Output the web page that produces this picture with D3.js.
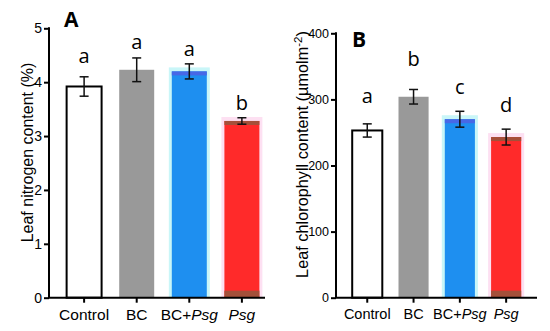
<!DOCTYPE html>
<meta charset="utf-8">
<style>
body { margin: 0; background: #fff; }
svg { display: block; }
text { font-family: "Liberation Sans", Arial, sans-serif; fill: #000; }
.letter { font-family: "Open Sans", sans-serif; font-size: 20px; }
.panel { font-family: "Open Sans", sans-serif; font-weight: bold; font-size: 21px; }
</style>
<svg width="550" height="331"></svg>
<script src="https://cdnjs.cloudflare.com/ajax/libs/d3/7.8.5/d3.min.js"></script>
<script>

// treatments
var groups = ["Control", "BC", "BC+Psg", "Psg"];
var fills = ["#ffffff", "#999999", "#1e8ff0", "#ff2a2a"];

// panel A: leaf nitrogen (%)
var nitrogen = [3.92, 4.23, 4.2, 3.28];
var nitrogenErr = [0.18, 0.22, 0.14, 0.06];
var nitrogenLetters = ["a", "a", "a", "b"];
var nitrogenLetterAt = [4.35, 4.62, 4.49, 3.49];
var nitrogenTicks = [0, 1, 2, 3, 4, 5];

// panel B: leaf chlorophyll (umol m-2)
var chloro = [253, 304, 270, 243];
var chloroErr = [10, 11, 12, 12];
var chloroLetters = ["a", "b", "c", "d"];
var chloroLetterAt = [294, 350, 308, 281];
var chloroTicks = [0, 100, 200, 300, 400];

var svg = d3.select("svg");

function panel(opt) {
  var g = svg.append("g");

  var y = d3.scaleLinear().domain(opt.domain).range([297.7, opt.top]);
  var x = d3.scaleBand().domain(groups)
      .range([opt.left, opt.right])
      .paddingInner(opt.pad).paddingOuter(opt.pad);

  var bw = x.bandwidth();

  // faint colour fringes around the coloured bars (as in the scan)
  var halo = {"BC+Psg": "#c9f6f8", "Psg": "#fde0f2"};
  g.selectAll("rect.halo")
      .data(groups.filter(function(d) { return halo[d]; }))
    .enter().append("rect")
      .attr("x", function(d) { return x(d) - 3; })
      .attr("y", function(d) { return y(opt.values[groups.indexOf(d)]) - 4; })
      .attr("width", bw + 6)
      .attr("height", function(d) { return y(0) - y(opt.values[groups.indexOf(d)]) + 4; })
      .attr("fill", function(d) { return halo[d]; });

  g.selectAll("rect.bar")
      .data(opt.values)
    .enter().append("rect")
      .attr("class", "bar")
      .attr("x", function(d, i) { return x(groups[i]); })
      .attr("y", function(d) { return y(d); })
      .attr("width", bw)
      .attr("height", function(d) { return y(0) - y(d); })
      .attr("fill", function(d, i) { return fills[i]; })
      .attr("stroke", function(d, i) { return i === 0 ? "#000" : "none"; })
      .attr("stroke-width", 2);

  // darker top bands on blue and red bars
  var band = {"BC+Psg": "#4768e6", "Psg": "#a4503a"};
  g.selectAll("rect.band")
      .data(groups.filter(function(d) { return band[d]; }))
    .enter().append("rect")
      .attr("x", function(d) { return x(d); })
      .attr("y", function(d) { return y(opt.values[groups.indexOf(d)]); })
      .attr("width", bw)
      .attr("height", 4)
      .attr("fill", function(d) { return band[d]; });
  g.append("rect")
      .attr("x", x("Psg"))
      .attr("y", y(0) - 7)
      .attr("width", bw)
      .attr("height", 7)
      .attr("fill", "#a4503a");

  // error bars
  var eb = g.selectAll("g.err")
      .data(opt.values)
    .enter().append("g")
      .attr("stroke", "#111")
      .attr("stroke-width", 1.5)
      .attr("transform", function(d, i) { return "translate(" + (x(groups[i]) + bw / 2) + ",0)"; });
  eb.append("line")
      .attr("y1", function(d, i) { return y(d - opt.err[i]); })
      .attr("y2", function(d, i) { return y(d + opt.err[i]); });
  eb.append("line")
      .attr("x1", -4.5).attr("x2", 4.5)
      .attr("y1", function(d, i) { return y(d - opt.err[i]); })
      .attr("y2", function(d, i) { return y(d - opt.err[i]); });
  eb.append("line")
      .attr("x1", -4.5).attr("x2", 4.5)
      .attr("y1", function(d, i) { return y(d + opt.err[i]); })
      .attr("y2", function(d, i) { return y(d + opt.err[i]); });

  // significance letters
  g.selectAll("text.letter")
      .data(opt.letters)
    .enter().append("text")
      .attr("class", "letter")
      .attr("text-anchor", "middle")
      .attr("x", function(d, i) { return x(groups[i]) + bw / 2; })
      .attr("y", function(d, i) { return y(opt.letterAt[i]); })
      .text(function(d) { return d; });

  // y axis
  var ya = g.append("g")
      .attr("transform", "translate(" + opt.left + ",0)")
      .call(d3.axisLeft(y).tickValues(opt.ticks).tickFormat(d3.format("d"))
        .tickSize(5).tickPadding(2).tickSizeOuter(0));
  ya.select(".domain").attr("stroke-width", 2).attr("d", "M0," + y(0) + "V" + (opt.top - 1));
  ya.selectAll(".tick line").attr("stroke-width", 2);
  ya.selectAll(".tick text").style("font-size", opt.tickFont + "px").attr("font-family", null);

  // x axis
  var xa = g.append("g")
      .attr("transform", "translate(0," + y(0) + ")")
      .call(d3.axisBottom(x).tickSize(5).tickPadding(6).tickSizeOuter(0));
  xa.select(".domain").attr("stroke-width", 2).attr("d", "M" + (opt.left - 1) + ",0H" + opt.axisEnd);
  xa.selectAll(".tick line").attr("stroke-width", 2);
  xa.selectAll(".tick text").attr("font-family", null)
      .style("font-size", opt.labelFont + "px")
      .each(function(d) {
        var t = d3.select(this).text("");
        if (d === "BC+Psg") {
          t.append("tspan").text("BC+");
          t.append("tspan").style("font-style", "italic").text("Psg");
        } else if (d === "Psg") {
          t.append("tspan").style("font-style", "italic").text("Psg");
        } else {
          t.text(d);
        }
      });

  // axis title
  var title = g.append("text")
      .attr("transform", "translate(" + opt.titleX + "," + opt.titleY + ") rotate(-90)")
      .attr("text-anchor", "middle")
      .style("font-size", opt.titleFont + "px");
  opt.title(title);

  g.append("text")
      .attr("class", "panel")
      .attr("x", opt.tagX)
      .attr("y", opt.tagY)
      .text(opt.tag);
}

panel({
  domain: [0, 5], top: 28.3, left: 49, right: 277, pad: 0.335, axisEnd: 265,
  values: nitrogen, err: nitrogenErr, letters: nitrogenLetters, letterAt: nitrogenLetterAt,
  ticks: nitrogenTicks, tickFont: 14, labelFont: 15.5, titleFont: 16,
  titleX: 33, titleY: 152.5,
  title: function(t) { t.text("Leaf nitrogen content (%)"); },
  tag: "A", tagX: 64, tagY: 27
});

panel({
  domain: [0, 400], top: 33.3, left: 336, right: 537.4, pad: 0.35, axisEnd: 537,
  values: chloro, err: chloroErr, letters: chloroLetters, letterAt: chloroLetterAt,
  ticks: chloroTicks, tickFont: 12.5, labelFont: 14.5, titleFont: 16.3,
  titleX: 308, titleY: 154.5,
  title: function(t) {
    t.append("tspan").text("Leaf chlorophyll content (\u00b5molm");
    t.append("tspan").attr("dy", -6).style("font-size", "11.5px").text("-2");
    t.append("tspan").attr("dy", 6).text(")");
  },
  tag: "B", tagX: 352, tagY: 47
});

</script>
